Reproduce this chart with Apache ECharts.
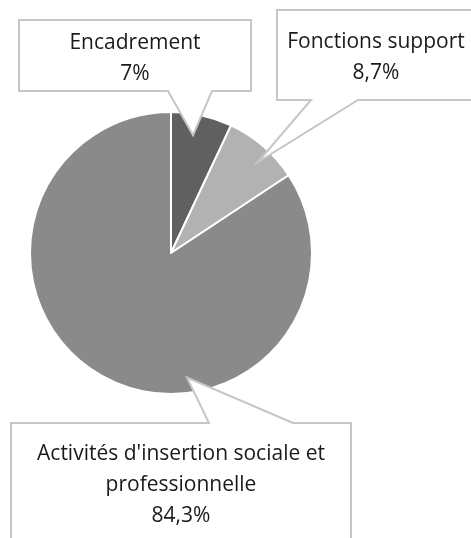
<!DOCTYPE html>
<html>
<head>
<meta charset="utf-8">
<script src="https://cdn.jsdelivr.net/npm/echarts@6/dist/echarts.min.js"></script>
<style>
  html, body { margin: 0; padding: 0; background: #fff; }
  #chart { width: 471px; height: 538px; }
</style>
</head>
<body>
<div id="chart"></div>
<script>
// data
const categories = ['Encadrement', 'Fonctions support', 'Activités d\'insertion sociale et\nprofessionnelle'];
const values = [7, 8.7, 84.3];
const colors = ['#606060', '#b2b2b2', '#8a8a8a'];

// callout boxes (layout only): box rect, notch base on the box edge, pointer angle + depth
const callouts = [
  {x: 19, y: 20, w: 232, h: 71, side: 'bottom', b1: 168, b2: 212, angle: 10.6, depth: 0.85},
  {x: 277, y: 10, w: 210, h: 90, side: 'bottom', b1: 311, b2: 358, angle: 43.7, depth: 0.89},
  {x: 11, y: 423, w: 340, h: 140, side: 'top', b1: 209, b2: 293, angle: 172.7, depth: 0.89}
];

const font = '"Open Sans", "Noto Sans", sans-serif';

const chart = echarts.init(document.getElementById('chart'), null, {renderer: 'canvas'});

chart.setOption({
  animation: false,
  series: [{
    type: 'pie',
    center: [171, 253],
    radius: 141,
    startAngle: 90,
    clockwise: true,
    silent: true,
    label: {show: false},
    labelLine: {show: false},
    itemStyle: {borderColor: '#fff', borderWidth: 2},
    data: categories.map((c, i) => ({name: c, value: values[i], itemStyle: {color: colors[i]}}))
  }]
});

// build the callouts from the pie's own layout
const layout = chart.getModel().getSeriesByIndex(0).getData().getItemLayout(0);
const cx = layout.cx, cy = layout.cy, r = layout.r;

const fmt = v => String(v).replace('.', ',') + '%';

const elements = [];
callouts.forEach((c, i) => {
  const a = c.angle * Math.PI / 180;
  const tx = cx + Math.sin(a) * r * c.depth;
  const ty = cy - Math.cos(a) * r * c.depth;
  let pts;
  if (c.side === 'bottom') {
    pts = [[c.x, c.y], [c.x + c.w, c.y], [c.x + c.w, c.y + c.h], [c.b2, c.y + c.h], [tx, ty], [c.b1, c.y + c.h], [c.x, c.y + c.h]];
  } else {
    pts = [[c.x, c.y], [c.b1, c.y], [tx, ty], [c.b2, c.y], [c.x + c.w, c.y], [c.x + c.w, c.y + c.h], [c.x, c.y + c.h]];
  }
  elements.push({
    type: 'polygon',
    z: 10,
    shape: {points: pts},
    style: {fill: '#fff', stroke: '#c6c6c6', lineWidth: 2}
  });
});

// texts
const textPos = [[135, 59], [376, 58], [181, 485]];
categories.forEach((c, i) => {
  elements.push({
    type: 'text',
    z: 11,
    x: textPos[i][0],
    y: textPos[i][1],
    style: {
      text: c + '\n' + fmt(values[i]),
      font: '21px ' + font,
      lineHeight: 31,
      fill: '#1a1a1a',
      align: 'center',
      verticalAlign: 'middle'
    }
  });
});

chart.setOption({graphic: {elements: elements}});
</script>
</body>
</html>
